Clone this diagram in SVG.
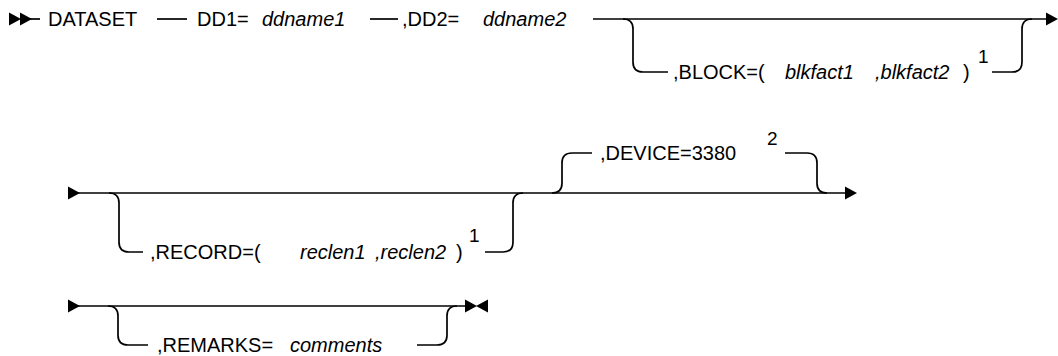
<svg xmlns="http://www.w3.org/2000/svg" xmlns:xlink="http://www.w3.org/1999/xlink" width="1058" height="356" viewBox="0 0 1058 356">
<style>
text{font-family:"Liberation Sans",Arial,sans-serif;font-size:20px;fill:#000}
.v{font-style:italic}
.sup{font-size:19px}
.ln{fill:none;stroke:#000;stroke-width:1.7}
.ah{fill:#000}
</style>
<defs>
<polygon id="tri" points="-12,-6.5 0,0 -12,6.5"/>
</defs>
<rect width="1058" height="356" fill="#fff"/>
<g id="connectors">
<!-- row 1 -->
<path class="ln" d="M30 19 H40"/>
<path class="ln" d="M157 19 H187"/>
<path class="ln" d="M370 19 H398"/>
<path class="ln" d="M593 19 H1048"/>
<path class="ln" d="M623 19 Q633 19 633 29 V62 Q633 72 643 72 H668"/>
<path class="ln" d="M992 72 H1012 Q1022 72 1022 62 V29 Q1022 19 1032 19"/>
<!-- row 2 -->
<path class="ln" d="M78 193 H847"/>
<path class="ln" d="M109 193 Q119 193 119 203 V242 Q119 252 129 252 H143"/>
<path class="ln" d="M485 252 H503 Q513 252 513 242 V203 Q513 193 523 193"/>
<path class="ln" d="M552 193 Q562 193 562 183 V163 Q562 153 572 153 H592"/>
<path class="ln" d="M785 153 H807 Q817 153 817 163 V183 Q817 193 827 193"/>
<!-- row 3 -->
<path class="ln" d="M78 306 H467"/>
<path class="ln" d="M108 306 Q118 306 118 316 V335 Q118 345 128 345 H148"/>
<path class="ln" d="M417 345 H437 Q447 345 447 335 V316 Q447 306 457 306"/>
<!-- symbols -->
<use href="#tri" class="ah" x="21" y="19"/>
<use href="#tri" class="ah" x="32" y="19"/>
<use href="#tri" class="ah" x="1058" y="19"/>
<use href="#tri" class="ah" x="80" y="193"/>
<use href="#tri" class="ah" x="857" y="193"/>
<use href="#tri" class="ah" x="80" y="306"/>
<use href="#tri" class="ah" x="477" y="306"/>
<use href="#tri" class="ah" transform="translate(476 306) scale(-1 1)"/>
</g>
<g id="n-dataset"><text x="48" y="26">DATASET</text></g>
<g id="n-dd1"><text x="197" y="26">DD1=</text><text class="v" x="262" y="26">ddname1</text></g>
<g id="n-dd2"><text x="402" y="26">,DD2=</text><text class="v" x="483" y="26">ddname2</text></g>
<g id="n-block"><text x="673" y="79">,BLOCK=(</text><text class="v" x="785" y="79">blkfact1</text><text class="v" x="875" y="79">,blkfact2</text><text x="963" y="79">)</text><text class="sup" x="978" y="63">1</text></g>
<g id="n-record"><text x="150" y="259">,RECORD=(</text><text class="v" x="300" y="259">reclen1</text><text class="v" x="375" y="259">,reclen2</text><text x="456" y="259">)</text><text class="sup" x="469" y="242">1</text></g>
<g id="n-device"><text x="600" y="160">,DEVICE=3380</text><text class="sup" x="767" y="145">2</text></g>
<g id="n-remarks"><text x="157" y="352">,REMARKS=</text><text class="v" x="290" y="352">comments</text></g>
</svg>
